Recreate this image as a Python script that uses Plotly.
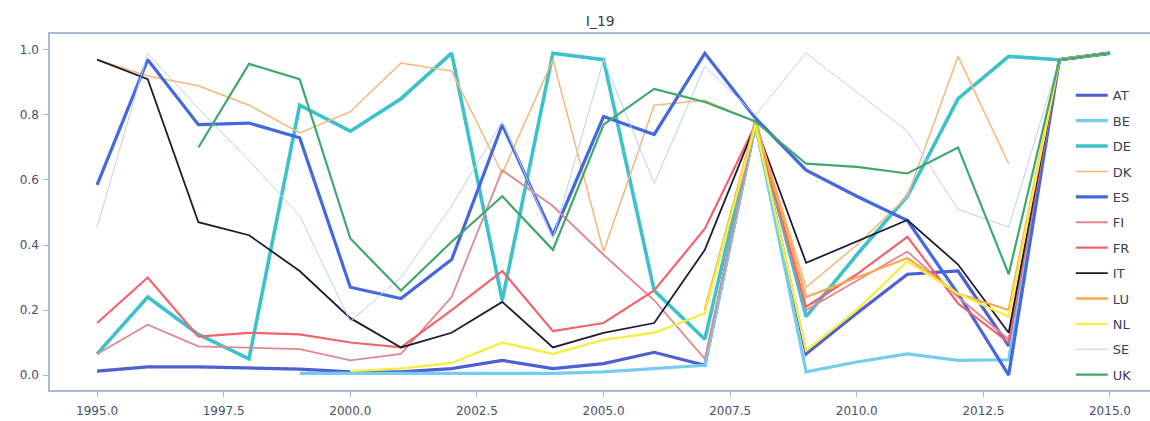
import plotly.graph_objects as go

years = list(range(1995, 2016))

AT = [0.012, 0.025, 0.025, 0.022, 0.018, 0.010, 0.010, 0.020, 0.045, 0.020, 0.035, 0.070, 0.030, 0.77, 0.065, 0.19, 0.31, 0.32, 0.09, 0.97, 0.99]
BE = [None, None, None, None, 0.005, 0.005, 0.005, 0.005, 0.005, 0.005, 0.01, 0.02, 0.03, 0.77, 0.01, 0.04, 0.065, 0.045, 0.047, 0.97, 0.99]
DE = [0.065, 0.24, 0.125, 0.05, 0.83, 0.75, 0.85, 0.99, 0.23, 0.99, 0.97, 0.26, 0.11, 0.78, 0.18, 0.37, 0.55, 0.85, 0.98, 0.97, 0.99]
DK = [0.97, 0.92, 0.89, 0.83, 0.745, 0.81, 0.96, 0.935, 0.62, 0.97, 0.38, 0.83, 0.845, 0.78, 0.27, 0.40, 0.55, 0.98, 0.65, None, None]
ES = [0.585, 0.97, 0.77, 0.775, 0.73, 0.27, 0.235, 0.355, 0.77, 0.43, 0.795, 0.74, 0.99, 0.79, 0.63, 0.55, 0.475, 0.25, 0.0, 0.97, 0.99]
FI = [0.065, 0.155, 0.088, 0.085, 0.08, 0.045, 0.065, 0.24, 0.63, 0.52, 0.37, 0.23, 0.05, 0.77, 0.20, 0.29, 0.38, 0.24, 0.11, 0.97, 0.99]
FR = [0.16, 0.30, 0.118, 0.13, 0.125, 0.10, 0.085, 0.20, 0.32, 0.135, 0.16, 0.26, 0.45, 0.77, 0.21, 0.31, 0.425, 0.22, 0.10, 0.97, 0.99]
IT = [0.97, 0.91, 0.47, 0.43, 0.32, 0.175, 0.085, 0.13, 0.225, 0.085, 0.13, 0.16, 0.385, 0.77, 0.345, 0.41, 0.477, 0.34, 0.13, 0.97, 0.99]
LU = [None, None, None, None, None, None, None, None, None, None, None, None, 0.20, 0.78, 0.24, 0.30, 0.36, 0.25, 0.20, 0.97, 0.99]
NL = [None, None, None, None, None, 0.012, 0.02, 0.037, 0.10, 0.065, 0.108, 0.13, 0.19, 0.77, 0.075, 0.20, 0.35, 0.25, 0.18, 0.97, 0.99]
SE = [0.455, 0.99, 0.82, 0.66, 0.49, 0.165, 0.30, 0.52, 0.78, 0.42, 0.97, 0.59, 0.95, 0.80, 0.99, 0.87, 0.75, 0.51, 0.455, 0.97, 0.99]
UK = [None, None, 0.70, 0.957, 0.91, 0.42, 0.26, 0.41, 0.55, 0.385, 0.77, 0.88, 0.84, 0.78, 0.65, 0.64, 0.62, 0.70, 0.31, 0.97, 0.99]

names = ["AT", "BE", "DE", "DK", "ES", "FI", "FR", "IT", "LU", "NL", "SE", "UK"]
series = [AT, BE, DE, DK, ES, FI, FR, IT, LU, NL, SE, UK]
colors = ["#4e5fd4", "#74cdee", "#3dc2cc", "#f9b57a", "#4468de", "#e08890",
          "#f2636c", "#1c1c36", "#f8aa50", "#f6ee44", "#bcd0f2", "#3fa86a"]
widths = [3.2, 3.2, 3.6, 1.5, 3.2, 1.8, 2.2, 1.8, 2.4, 2.4, 1.0, 2.2]

x_ticks = [1995.0, 1997.5, 2000.0, 2002.5, 2005.0, 2007.5, 2010.0, 2012.5, 2015.0]
y_ticks = [0.0, 0.2, 0.4, 0.6, 0.8, 1.0]

fig = go.Figure()
for n, s, c, w in zip(names, series, colors, widths):
    fig.add_trace(go.Scatter(x=years, y=s, mode="lines", name=n, legendgroup=n,
                             line=dict(color=c, width=w), connectgaps=False))

axis_col = "#a9b9d4"
tick_font = dict(family="DejaVu Sans", size=12, color="#4a5068")

fig.update_layout(
    width=1150, height=421,
    margin=dict(l=50, r=0, t=34, b=31),
    paper_bgcolor="white", plot_bgcolor="white",
    title=dict(text="I_19", x=0.522, y=0.95, xanchor="center", yanchor="middle",
               font=dict(family="DejaVu Sans", size=14, color="#3a3f55")),
    showlegend=True,
    legend=dict(x=0.928, y=0.870, xanchor="left", yanchor="top",
                bgcolor="rgba(255,255,255,0)", borderwidth=0,
                font=dict(family="DejaVu Sans", size=13, color="#3a3f55"),
                tracegroupgap=5.5, itemwidth=32),
)
fig.update_xaxes(range=[1994.07, 2015.79], tickvals=x_ticks, tickformat=".1f",
                 showgrid=False, zeroline=False, showline=True, linecolor=axis_col,
                 linewidth=1.5, mirror=True, ticks="outside", ticklen=5,
                 tickcolor=axis_col, tickfont=tick_font, ticklabelstandoff=4)
fig.update_yaxes(range=[-0.046, 1.049], tickvals=y_ticks, tickformat=".1f",
                 showgrid=False, zeroline=False, showline=True, linecolor=axis_col,
                 linewidth=1.5, mirror=False, ticks="outside", ticklen=5,
                 tickcolor=axis_col, tickfont=tick_font, ticklabelstandoff=2)

fig.write_html("out.html")
